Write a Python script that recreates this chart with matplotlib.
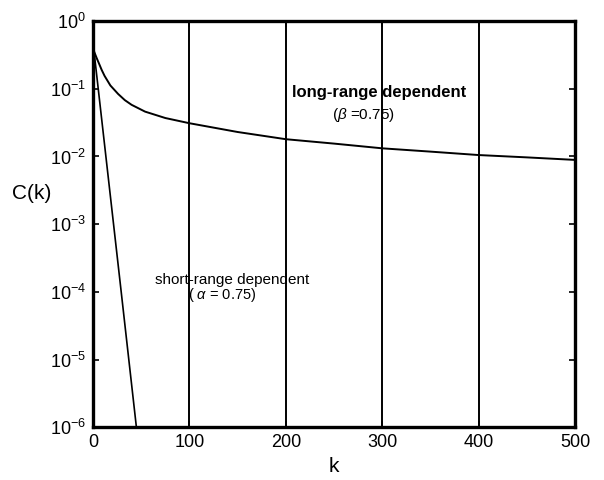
import matplotlib

matplotlib.use("Agg")
matplotlib.rcParams.update({
    "font.family": "Liberation Sans",
    "mathtext.fontset": "custom",
    "mathtext.rm": "Liberation Sans",
    "mathtext.it": "Liberation Sans:italic",
})

import matplotlib.pyplot as plt
from matplotlib.ticker import FixedLocator, NullLocator

# long-range dependent, beta = 0.75
k_long = [1, 2, 4, 6, 9, 12, 18, 26, 33, 40, 54, 75, 100, 150, 200, 250,
          300, 350, 400, 450, 500]
c_long = [0.36, 0.33, 0.28, 0.24, 0.19, 0.155, 0.112, 0.084, 0.068,
          0.058, 0.046, 0.037, 0.031, 0.023, 0.018, 0.0155, 0.0132,
          0.0118, 0.0105, 0.0097, 0.0089]

# short-range dependent, alpha = 0.75
k_short = [1, 14, 29, 45]
c_short = [0.36, 8.3e-3, 1.07e-4, 1.0e-6]

x_ticks = [0, 100, 200, 300, 400, 500]
y_ticks = [1e-6, 1e-5, 1e-4, 1e-3, 1e-2, 1e-1, 1]
grid_x = [100, 200, 300, 400]

fig = plt.figure(figsize=(6.04, 4.80), dpi=100)
ax = fig.add_axes([0.154, 0.110, 0.798, 0.846])

for g in grid_x:
    ax.axvline(g, color="black", lw=1.4, zorder=1)
ax.plot(k_long, c_long, color="black", lw=1.4, zorder=3)
ax.plot(k_short, c_short, color="black", lw=1.2, zorder=3)

ax.set_yscale("log")
ax.set_xlim(0, 500)
ax.set_ylim(1e-6, 1)
ax.xaxis.set_major_locator(FixedLocator(x_ticks))
ax.xaxis.set_minor_locator(NullLocator())
ax.yaxis.set_major_locator(FixedLocator(y_ticks))
ax.yaxis.set_minor_locator(NullLocator())
ax.tick_params(direction="in", length=4, width=1.2, labelsize=13,
               top=True, right=True, pad=5)
for s in ax.spines.values():
    s.set_linewidth(2.4)

ax.set_xlabel("k", fontsize=15, labelpad=4)
ax.set_ylabel("C(k)", fontsize=15, rotation=0, ha="center", va="center")
ax.yaxis.set_label_coords(-0.127, 0.576)

ax.text(297, 0.089, "long-range dependent", ha="center", va="center",
        fontsize=12, fontweight="bold")
ax.text(280, 0.041, r"($\beta$ =0.75)", ha="center", va="center",
        fontsize=11)
ax.text(144, 1.5e-4, "short-range dependent", ha="center", va="center",
        fontsize=11, fontstretch="condensed")
ax.text(134, 9e-5, r"( $\alpha$ = 0.75)", ha="center", va="center",
        fontsize=10.5)

fig.savefig("out.png", dpi=100)
